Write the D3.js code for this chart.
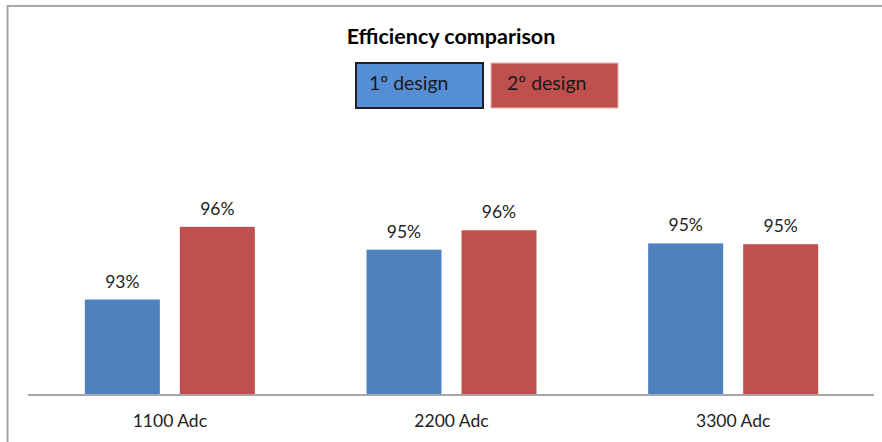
<!DOCTYPE html>
<html>
<head>
<meta charset="utf-8">
<script src="https://cdn.jsdelivr.net/npm/d3@7"></script>
<style>
  html, body { margin: 0; padding: 0; background: #ffffff; }
  svg { display: block; font-family: Lato, "Open Sans", sans-serif; }
</style>
</head>
<body>
<svg id="chart" width="882" height="442"></svg>
<script>
// Efficiency per load current for the two designs
const categories = ["1100 Adc", "2200 Adc", "3300 Adc"];
const seriesNames = ["1º design", "2º design"];
const design1 = [0.9335, 0.9510, 0.9532];
const design2 = [0.9590, 0.9578, 0.9529];
const yDomain = [0.9, 1.0];

const seriesColors = ["#4f81bd", "#c0504d"];
const legendFill = ["#558ed5", "#c0504d"];
const legendStroke = ["#1f1f1f", "#e6b9b8"];

const svg = d3.select("#chart");
const W = 882, H = 442;

const plot = { left: 29, right: 874, top: 110, bottom: 395 };

const rows = categories.map((c, i) => ({ cat: c, values: [design1[i], design2[i]] }));

// chart frame
svg.append("path")
  .attr("d", `M7.5,${H} L7.5,6 L${W},6`)
  .attr("fill", "none")
  .attr("stroke", "#a6a6a6")
  .attr("stroke-width", 2);

const x0 = d3.scaleBand().domain(categories).range([plot.left, plot.right]).padding(0);
const bw = x0.bandwidth();
const x1 = d3.scaleBand().domain(d3.range(seriesNames.length))
  .range([bw / 2 - 85, bw / 2 + 85])
  .paddingInner(20 / 95).paddingOuter(0);
const y = d3.scaleLinear().domain(yDomain).range([plot.bottom, plot.top]);

const fmt = d3.format(".0%");

const groups = svg.append("g").selectAll("g")
  .data(rows)
  .join("g")
  .attr("transform", d => `translate(${x0(d.cat)},0)`);

groups.selectAll("rect")
  .data(d => d.values.map((v, k) => ({ v, k })))
  .join("rect")
  .attr("x", d => x1(d.k))
  .attr("width", x1.bandwidth())
  .attr("y", d => y(d.v))
  .attr("height", d => y(yDomain[0]) - y(d.v))
  .attr("fill", d => seriesColors[d.k]);

groups.selectAll("text.val")
  .data(d => d.values.map((v, k) => ({ v, k })))
  .join("text")
  .attr("class", "val")
  .attr("x", d => x1(d.k) + x1.bandwidth() / 2)
  .attr("y", d => y(d.v) - 12)
  .attr("text-anchor", "middle")
  .attr("font-size", 17.5)
  .attr("fill", "#222")
  .text(d => fmt(d.v));

// category axis
const xAxis = svg.append("g")
  .attr("transform", `translate(0,${plot.bottom})`)
  .call(d3.axisBottom(x0).tickSize(0).tickPadding(0));
xAxis.select(".domain").remove();
xAxis.selectAll("text")
  .attr("y", 32)
  .attr("dy", null)
  .attr("font-size", 17.5)
  .attr("font-family", "Lato, 'Open Sans', sans-serif")
  .attr("fill", "#222");

svg.append("line")
  .attr("x1", plot.left - 1).attr("x2", plot.right)
  .attr("y1", plot.bottom).attr("y2", plot.bottom)
  .attr("stroke", "#a6a6a6")
  .attr("stroke-width", 2);

// title
svg.append("text")
  .attr("x", 451).attr("y", 44)
  .attr("text-anchor", "middle")
  .attr("font-size", 21.5)
  .attr("font-weight", "bold")
  .attr("fill", "#000")
  .text("Efficiency comparison");

// legend
const legendX = [356, 491];
const leg = svg.append("g").selectAll("g")
  .data(seriesNames)
  .join("g")
  .attr("transform", (d, i) => `translate(${legendX[i]},63)`);
leg.append("rect")
  .attr("width", 127).attr("height", 45)
  .attr("fill", (d, i) => legendFill[i])
  .attr("stroke", (d, i) => legendStroke[i])
  .attr("stroke-width", (d, i) => i === 0 ? 2 : 1);
leg.append("text")
  .attr("x", (d, i) => i === 0 ? 13 : 16)
  .attr("y", 27)
  .attr("font-size", 19.5)
  .attr("fill", "#1a1a1a")
  .text(d => d);
</script>
</body>
</html>
